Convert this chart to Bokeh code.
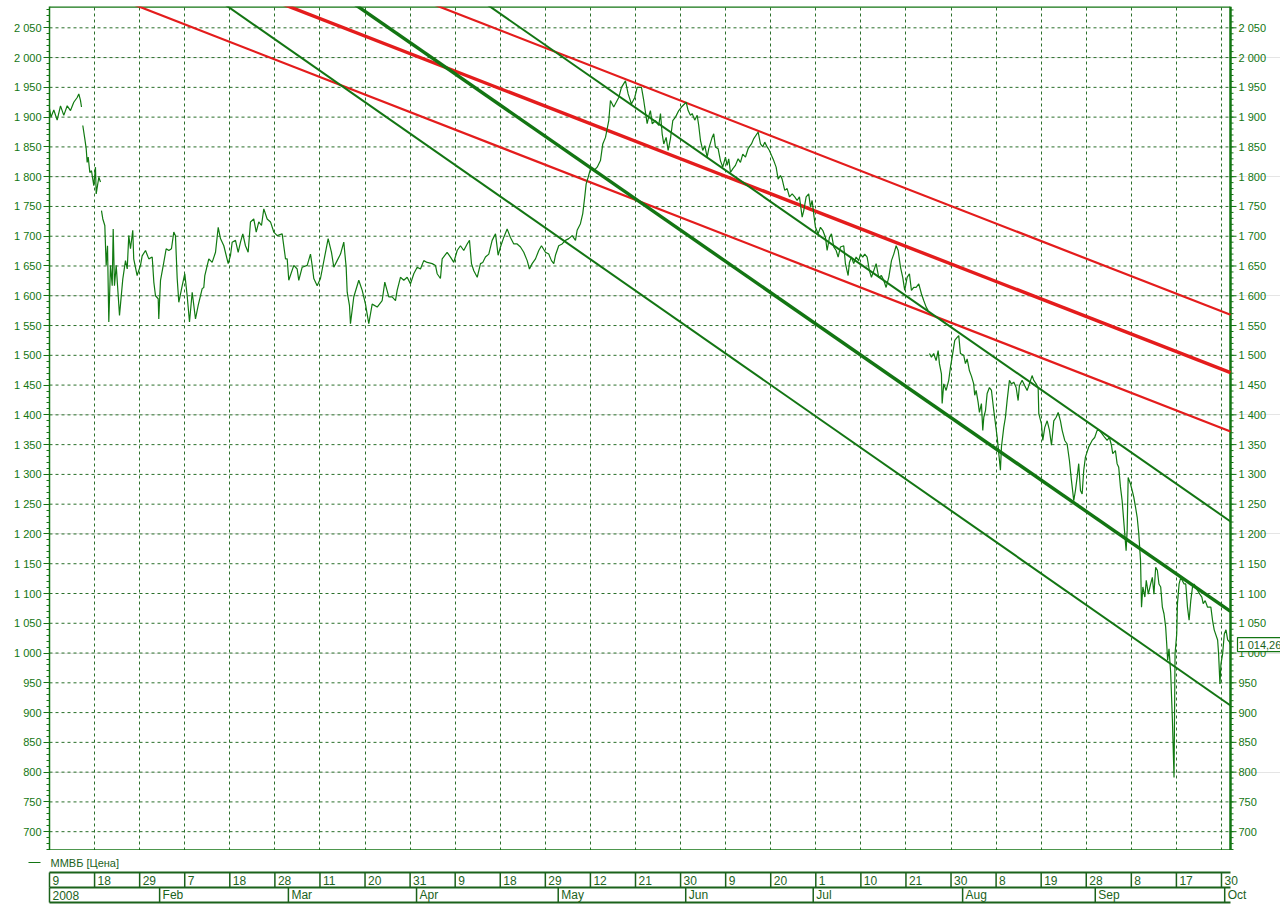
from bokeh.plotting import figure
from bokeh.models import Range1d, FixedTicker, LinearAxis, Label, Grid
from bokeh.layouts import column
from bokeh.embed import file_html
from bokeh.resources import INLINE
from bokeh.core.properties import value

# ---------------- data (x = trading-day index from 9 Jan 2008) ----------------
series_name = "ММВБ [Цена]"

jan_a_day = [0.00, 0.23, 0.67, 1.19, 1.71, 2.22, 2.75, 3.26, 3.77, 4.30, 4.55, 4.81, 4.97]
jan_a_val = [1914, 1900, 1912, 1895, 1919, 1903, 1919, 1911, 1925, 1933, 1939, 1928, 1917]

jan_b_day = [5.17, 5.48, 5.70, 5.85, 6.01, 6.26, 6.52, 6.88, 7.14, 7.25, 7.66, 7.92]
jan_b_val = [1886, 1864, 1847, 1824, 1833, 1807, 1810, 1785, 1816, 1771, 1799, 1791]

jan_jul_day = [
    8.07, 8.28, 8.59, 8.80, 9.01, 9.21, 9.47, 9.74, 9.89, 10.09,
    10.36, 10.67, 10.87, 11.38, 11.80, 12.07, 12.31, 12.58, 12.93, 13.08,
    13.61, 14.13, 14.39, 14.91, 15.42, 15.95, 16.20, 16.46, 16.88, 16.97,
    17.24, 17.75, 18.12, 18.53, 18.94, 19.30, 19.56, 19.83, 20.08, 20.61,
    21.01, 21.38, 21.74, 22.16, 22.67, 23.09, 23.71, 23.96, 24.12, 24.74,
    25.26, 25.78, 26.20, 26.55, 27.07, 27.75, 28.11, 28.37, 28.88, 29.30,
    29.66, 30.02, 30.43, 30.85, 31.21, 31.72, 32.10, 32.50, 32.92, 33.28,
    33.80, 34.32, 34.83, 35.36, 36.13, 36.65, 36.91, 37.16, 37.94, 38.46,
    38.71, 39.24, 40.02, 40.53, 40.79, 41.04, 41.57, 42.08, 42.86, 43.27,
    43.79, 44.15, 44.67, 45.19, 45.70, 46.07, 46.23, 46.58, 46.74, 47.25,
    48.03, 48.56, 49.07, 49.58, 50.11, 50.89, 51.66, 52.07, 52.69, 53.21,
    53.73, 53.99, 54.50, 55.02, 55.54, 56.06, 56.57, 57.10, 57.61, 58.12,
    58.65, 59.43, 59.94, 60.20, 60.71, 60.98, 61.75, 62.27, 62.78, 63.31,
    63.82, 64.33, 64.86, 65.22, 65.53, 65.89, 66.42, 66.93, 67.28, 67.70,
    68.22, 68.74, 69.26, 69.67, 70.03, 70.54, 71.07, 71.58, 72.10, 72.62,
    73.14, 73.65, 74.18, 74.53, 74.95, 75.47, 75.98, 76.40, 77.02, 77.53,
    77.95, 78.31, 78.57, 79.08, 79.61, 80.12, 80.64, 81.17, 81.68, 81.94,
    82.45, 82.81, 83.12, 83.34, 83.65, 84.01, 84.52, 85.05, 85.56, 85.92,
    86.34, 86.85, 87.11, 87.62, 88.15, 88.40, 88.82, 89.44, 89.86, 90.37,
    90.89, 91.26, 91.93, 92.28, 92.81, 93.17, 93.32, 93.59, 94.10, 94.61,
    94.88, 95.14, 95.39, 95.76, 96.07, 96.43, 96.79, 97.21, 97.72, 98.14,
    98.87, 99.18, 99.53, 99.80, 100.20, 100.58, 100.82, 101.09, 101.44, 101.76,
    102.13, 102.38, 102.90, 103.15, 103.41, 103.83, 104.19, 104.55, 104.97, 105.23,
    105.48, 105.75, 106.10, 106.52, 106.94, 107.30, 107.66, 108.08, 108.49, 109.01,
    109.37, 110.05, 110.41, 110.76, 111.07, 111.45, 111.80, 112.11, 112.47, 112.84,
    113.15, 113.51, 113.77, 114.18, 114.55, 114.91, 115.33, 115.73, 116.10, 116.46,
    116.88, 117.13, 117.50, 117.90, 118.17, 118.43, 118.74, 118.95, 119.36, 119.72,
    120.08, 120.50, 120.76, 121.12, 121.43, 121.79, 122.16, 122.47, 122.83, 123.34,
    123.60, 124.02, 124.22, 124.53, 124.89, 125.26, 125.67, 125.94, 126.29, 126.60,
    126.97, 127.33, 127.64, 128.00, 128.37, 128.77, 129.19, 129.55, 129.92, 130.33,
    130.75, 131.11, 131.48, 131.79, 132.15, 132.50, 132.81, 133.18, 133.54, 133.85,
    134.21, 134.58, 134.99, 135.41, 135.76, 136.14, 136.45,
]
jan_jul_val = [
    1743, 1729, 1718, 1651, 1684, 1556, 1651, 1617, 1712, 1617,
    1651, 1600, 1567, 1628, 1659, 1645, 1701, 1679, 1710, 1662,
    1634, 1651, 1667, 1676, 1662, 1665, 1623, 1600, 1595, 1561,
    1626, 1656, 1679, 1676, 1679, 1707, 1701, 1629, 1589, 1617,
    1637, 1600, 1556, 1606, 1561, 1584, 1612, 1614, 1634, 1662,
    1656, 1673, 1715, 1696, 1684, 1654, 1668, 1690, 1693, 1673,
    1690, 1704, 1684, 1673, 1724, 1729, 1707, 1724, 1718, 1746,
    1729, 1724, 1707, 1701, 1704, 1662, 1662, 1626, 1651, 1645,
    1626, 1648, 1651, 1670, 1651, 1629, 1617, 1629, 1673, 1696,
    1673, 1648, 1659, 1670, 1690, 1648, 1606, 1584, 1553, 1598,
    1626, 1609, 1586, 1553, 1586, 1581, 1592, 1623, 1598, 1598,
    1592, 1609, 1631, 1626, 1631, 1620, 1637, 1648, 1645, 1659,
    1656, 1654, 1651, 1637, 1629, 1662, 1673, 1665, 1656, 1676,
    1684, 1676, 1687, 1693, 1654, 1642, 1631, 1654, 1656, 1665,
    1670, 1693, 1704, 1668, 1682, 1698, 1712, 1698, 1687, 1687,
    1682, 1673, 1659, 1645, 1654, 1662, 1676, 1684, 1673, 1670,
    1659, 1654, 1668, 1684, 1687, 1693, 1696, 1701, 1693, 1710,
    1721, 1738, 1766, 1788, 1799, 1813, 1810, 1816, 1827, 1855,
    1866, 1894, 1928, 1917, 1928, 1933, 1950, 1961, 1939, 1922,
    1933, 1950, 1950, 1928, 1889, 1906, 1911, 1889, 1894, 1886,
    1906, 1872, 1855, 1866, 1844, 1864, 1894, 1900, 1911, 1917,
    1925, 1911, 1903, 1906, 1895, 1903, 1886, 1861, 1844, 1852,
    1833, 1847, 1866, 1872, 1850, 1847, 1827, 1816, 1833, 1819,
    1830, 1807, 1813, 1819, 1830, 1824, 1838, 1833, 1847, 1855,
    1864, 1875, 1855, 1850, 1858, 1850, 1844, 1836, 1827, 1816,
    1796, 1802, 1796, 1777, 1780, 1766, 1771, 1766, 1760, 1766,
    1732, 1743, 1766, 1771, 1749, 1760, 1732, 1715, 1704, 1715,
    1710, 1698, 1676, 1698, 1704, 1682, 1676, 1665, 1682, 1684,
    1654, 1634, 1656, 1665, 1654, 1665, 1659, 1670, 1665, 1670,
    1665, 1642, 1631, 1642, 1654, 1631, 1634, 1626, 1614, 1631,
    1659, 1670, 1684, 1676, 1648, 1631, 1609, 1631, 1637, 1609,
    1614, 1614, 1620, 1603, 1592, 1581, 1575,
]

jul_oct_day = [
    136.65, 136.96, 137.31, 137.68, 138.00, 138.20, 138.51, 138.62, 138.87, 139.24,
    139.64, 139.91, 140.26, 140.58, 140.95, 141.20, 141.46, 141.97, 142.24, 142.50,
    142.86, 143.17, 143.52, 143.68, 143.90, 144.21, 144.41, 144.72, 144.93, 145.09,
    145.35, 145.61, 145.97, 146.28, 146.64, 146.90, 147.17, 147.42, 147.67, 147.83,
    148.19, 148.45, 148.71, 149.07, 149.38, 149.74, 150.11, 150.42, 150.62, 151.04,
    151.45, 151.82, 152.17, 152.59, 152.85, 153.22, 153.53, 153.63, 154.04, 154.25,
    154.56, 154.93, 155.29, 155.60, 155.96, 156.33, 156.64, 156.99, 157.26, 157.66,
    158.03, 158.39, 158.70, 159.06, 159.32, 159.58, 159.83, 160.10, 160.36, 160.61,
    160.87, 161.38, 161.91, 162.31, 162.69, 163.05, 163.46, 163.87, 164.24, 164.60,
    164.91, 165.11, 165.53, 165.79, 166.04, 166.31, 166.57, 166.82, 166.98, 167.19,
    167.35, 167.51, 167.87, 168.13, 168.38, 168.65, 168.91, 169.16, 169.43, 169.58,
    169.79, 170.10, 170.32, 170.64, 171.00, 171.26, 171.51, 171.78, 172.04, 172.29,
    172.56, 172.82, 173.07, 173.33, 173.49, 173.64, 173.85, 174.11, 174.38, 174.63,
    174.79, 175.05, 175.16, 175.42, 175.68, 176.19, 176.45, 176.72, 176.97, 177.23,
    177.50, 177.75, 178.28, 178.64, 178.95, 179.16, 179.47, 179.84, 180.35, 180.61,
    180.87, 181.40, 181.55, 181.76, 181.92, 182.18, 182.44, 182.70, 182.96, 183.22, 183.38,
]
jul_oct_val = [
    1503, 1497, 1503, 1491, 1508, 1486, 1469, 1419, 1452, 1441,
    1458, 1480, 1503, 1525, 1530, 1533, 1503, 1500, 1486, 1494,
    1474, 1465, 1452, 1433, 1441, 1421, 1404, 1419, 1374, 1396,
    1407, 1436, 1446, 1441, 1407, 1385, 1362, 1335, 1307, 1346,
    1379, 1396, 1424, 1458, 1452, 1455, 1446, 1424, 1449, 1458,
    1449, 1441, 1452, 1466, 1458, 1452, 1446, 1402, 1385, 1357,
    1379, 1390, 1374, 1349, 1390, 1396, 1404, 1390, 1374, 1357,
    1351, 1323, 1290, 1256, 1273, 1295, 1318, 1273, 1267, 1307,
    1329, 1346, 1357, 1362, 1374, 1374, 1368, 1362, 1357, 1362,
    1349, 1335, 1340, 1318, 1312, 1279, 1256, 1222, 1200, 1172,
    1206, 1295, 1284, 1273, 1262, 1245, 1228, 1200, 1155, 1077,
    1111, 1094, 1122, 1099, 1116, 1127, 1099, 1144, 1139, 1116,
    1111, 1077, 1066, 1044, 1016, 988, 1007, 967, 887, 791,
    999, 1032, 1083, 1116, 1127, 1116, 1116, 1077, 1055, 1088,
    1111, 1116, 1105, 1099, 1094, 1083, 1088, 1077, 1077, 1055,
    1039, 1022, 999, 948, 982, 999, 1032, 1039, 1022, 1019, 1014.26,
]

last_value = 1014.26
last_value_label = "1 014,26"

# trend channels: endpoints (trading day, price)
red_x0 = [57.1, 33.8, 10.5]
red_y0 = [2100, 2100, 2100]
red_x1 = [183.4, 183.4, 183.4]
red_y1 = [1568, 1471, 1372]

green_x0 = [66.5, 46.0, 25.8]
green_y0 = [2100, 2100, 2100]
green_x1 = [183.4, 183.4, 183.4]
green_y1 = [1221, 1070, 912]

# axes
y_ticks = [700, 750, 800, 850, 900, 950, 1000, 1050, 1100, 1150, 1200, 1250, 1300, 1350,
           1400, 1450, 1500, 1550, 1600, 1650, 1700, 1750, 1800, 1850, 1900, 1950, 2000, 2050]
y_tick_labels = ["700", "750", "800", "850", "900", "950", "1 000", "1 050", "1 100", "1 150",
                 "1 200", "1 250", "1 300", "1 350", "1 400", "1 450", "1 500", "1 550", "1 600",
                 "1 650", "1 700", "1 750", "1 800", "1 850", "1 900", "1 950", "2 000", "2 050"]

day_ticks = [0, 7, 14, 21, 28, 35, 42, 49, 56, 63, 70, 77, 84, 91, 98, 105, 112, 119, 126,
             133, 140, 147, 154, 161, 168, 175, 182]
day_labels = ["9", "18", "29", "7", "18", "28", "11", "20", "31", "9", "18", "29", "12", "21",
              "30", "9", "20", "1", "10", "21", "30", "8", "19", "28", "8", "17", "30"]

month_starts = [0, 17.1, 37.1, 57.0, 79.0, 98.8, 118.6, 141.8, 162.4, 182.5]
month_labels = ["2008", "Feb", "Mar", "Apr", "May", "Jun", "Jul", "Aug", "Sep", "Oct"]

# ---------------- styles ----------------
GREEN = "#137513"
DARK = "#1b621b"
GRID = "#2a6f2a"
RED = "#e41c1c"
FONT = "Liberation Sans"
X_START, X_END = 0.0, 183.4          # chart area in trading days
Y_MIN, Y_MAX = 668.4, 2085.8
FRAME_W = 1181                       # chart area width (px)
PX_PER_DAY = FRAME_W / (X_END - X_START)
BORDER_L, BORDER_R = 49, 50
TOTAL_W = BORDER_L + FRAME_W + BORDER_R
d = 1 / PX_PER_DAY                   # one pixel in days

# main figure: frame covers chart area + right scale strip
p = figure(width=TOTAL_W, height=850,
           x_range=Range1d(X_START, X_END + BORDER_R * d), y_range=Range1d(Y_MIN, Y_MAX),
           output_backend="svg", toolbar_location=None, x_axis_type=None, y_axis_location=None,
           min_border_left=BORDER_L, min_border_right=0, min_border_top=6, min_border_bottom=0)
p.frame_align = False
p.outline_line_color = None
p.background_fill_color = "white"
p.border_fill_color = "white"

# vertical grid (stops at last tick, inside the chart area)
p.add_layout(Grid(dimension=0, ticker=FixedTicker(ticks=day_ticks), grid_line_color=GRID,
                  grid_line_dash="3 3", grid_line_width=1))
# horizontal grid limited to the chart area
n = len(y_ticks)
p.segment(x0=[X_START] * n, y0=y_ticks, x1=[X_END] * n, y1=y_ticks,
          line_color=GRID, line_dash="3 3", line_width=1)

minor = [v for v in range(670, 2086, 10)]
ax = LinearAxis(ticker=FixedTicker(ticks=y_ticks, minor_ticks=minor),
                major_label_overrides={t: s for t, s in zip(y_ticks, y_tick_labels)})
ax.axis_line_color = GREEN
ax.axis_line_width = 1.5
ax.major_tick_line_color = GREEN
ax.minor_tick_line_color = GREEN
ax.major_tick_out = 6
ax.major_tick_in = 0
ax.minor_tick_out = 3
ax.minor_tick_in = 0
ax.major_label_standoff = 2
ax.major_label_text_font = FONT
ax.major_label_text_font_size = "11px"
ax.major_label_text_color = GREEN
p.add_layout(ax, "left")

# chart area border (top, bottom, right)
p.segment(x0=[X_START, X_START, X_END], y0=[Y_MAX, Y_MIN, Y_MIN],
          x1=[X_END, X_END, X_END], y1=[Y_MAX, Y_MIN, Y_MAX],
          line_color=GREEN, line_width=2.5)

# right price scale
m = len(minor)
p.segment(x0=[X_END] * m, y0=minor, x1=[X_END + 3 * d] * m, y1=minor, line_color=GREEN, line_width=1)
p.segment(x0=[X_END] * n, y0=y_ticks, x1=[X_END + 6 * d] * n, y1=y_ticks, line_color=GREEN, line_width=1)
p.text(x=[X_END] * n, y=y_ticks, text=y_tick_labels, x_offset=8, text_font=value(FONT),
       text_font_size="11px", text_color=GREEN, text_baseline="middle", text_align="left")

# channels
red_widths = [2.2, 3.4, 2.2]
green_widths = [2.0, 3.4, 2.0]
for x0, y0, x1, y1, w in zip(red_x0, red_y0, red_x1, red_y1, red_widths):
    p.line([x0, x1], [y0, y1], line_color=RED, line_width=w)
for x0, y0, x1, y1, w in zip(green_x0, green_y0, green_x1, green_y1, green_widths):
    p.line([x0, x1], [y0, y1], line_color=GREEN, line_width=w)

# price
for xs, ys in ((jan_a_day, jan_a_val), (jan_b_day, jan_b_val),
               (jan_jul_day, jan_jul_val), (jul_oct_day, jul_oct_val)):
    p.line(xs, ys, line_color="#117a11", line_width=1.2)

p.add_layout(Label(x=X_END + 7 * d, y=last_value, text=last_value_label,
                   text_font=FONT, text_font_size="11px", text_color=DARK,
                   text_baseline="middle", border_line_color=GREEN, border_line_width=1.2,
                   background_fill_color="white", padding=1))

# ---------------- bottom band (legend + date scale) ----------------
BAND_H = 58  # page y 850..908, data y = 908 - page y
p2 = figure(width=TOTAL_W, height=BAND_H,
            x_range=Range1d(X_START - BORDER_L * d, X_END + BORDER_R * d),
            y_range=Range1d(0, BAND_H), output_backend="svg", toolbar_location=None,
            x_axis_type=None, y_axis_type=None, min_border=0, min_border_left=0,
            min_border_right=0, min_border_top=0, min_border_bottom=0)
p2.frame_align = False
p2.outline_line_color = None
p2.grid.visible = False
p2.background_fill_color = "white"
p2.border_fill_color = "white"

# legend
p2.line([X_START - 21 * d, X_START - 9 * d], [46, 46], line_color=GREEN, line_width=1.2)
p2.text(x=[X_START + 1 * d], y=[46], text=[series_name], text_font=value(FONT),
        text_font_size="11px", text_color=DARK, text_baseline="middle")

# band frame (rows: page y 872-887 and 887-902)
p2.segment(x0=[X_START] * 3, y0=[36, 21, 6], x1=[X_END] * 3, y1=[36, 21, 6],
           line_color=DARK, line_width=2)
p2.segment(x0=day_ticks, y0=[21] * len(day_ticks), x1=day_ticks, y1=[36] * len(day_ticks),
           line_color=DARK, line_width=1.5)
p2.segment(x0=month_starts, y0=[6] * len(month_starts), x1=month_starts,
           y1=[21] * len(month_starts), line_color=DARK, line_width=1.5)
p2.text(x=day_ticks, y=[28.5] * len(day_ticks), text=day_labels, x_offset=3,
        text_font=value(FONT), text_font_size="12px", text_color=DARK, text_baseline="middle")
p2.text(x=month_starts, y=[13.5] * len(month_starts), text=month_labels, x_offset=3,
        text_font=value(FONT), text_font_size="12px", text_color=DARK, text_baseline="middle")

layout = column(p, p2, spacing=0)
open("out.html", "w").write(file_html(layout, INLINE))
